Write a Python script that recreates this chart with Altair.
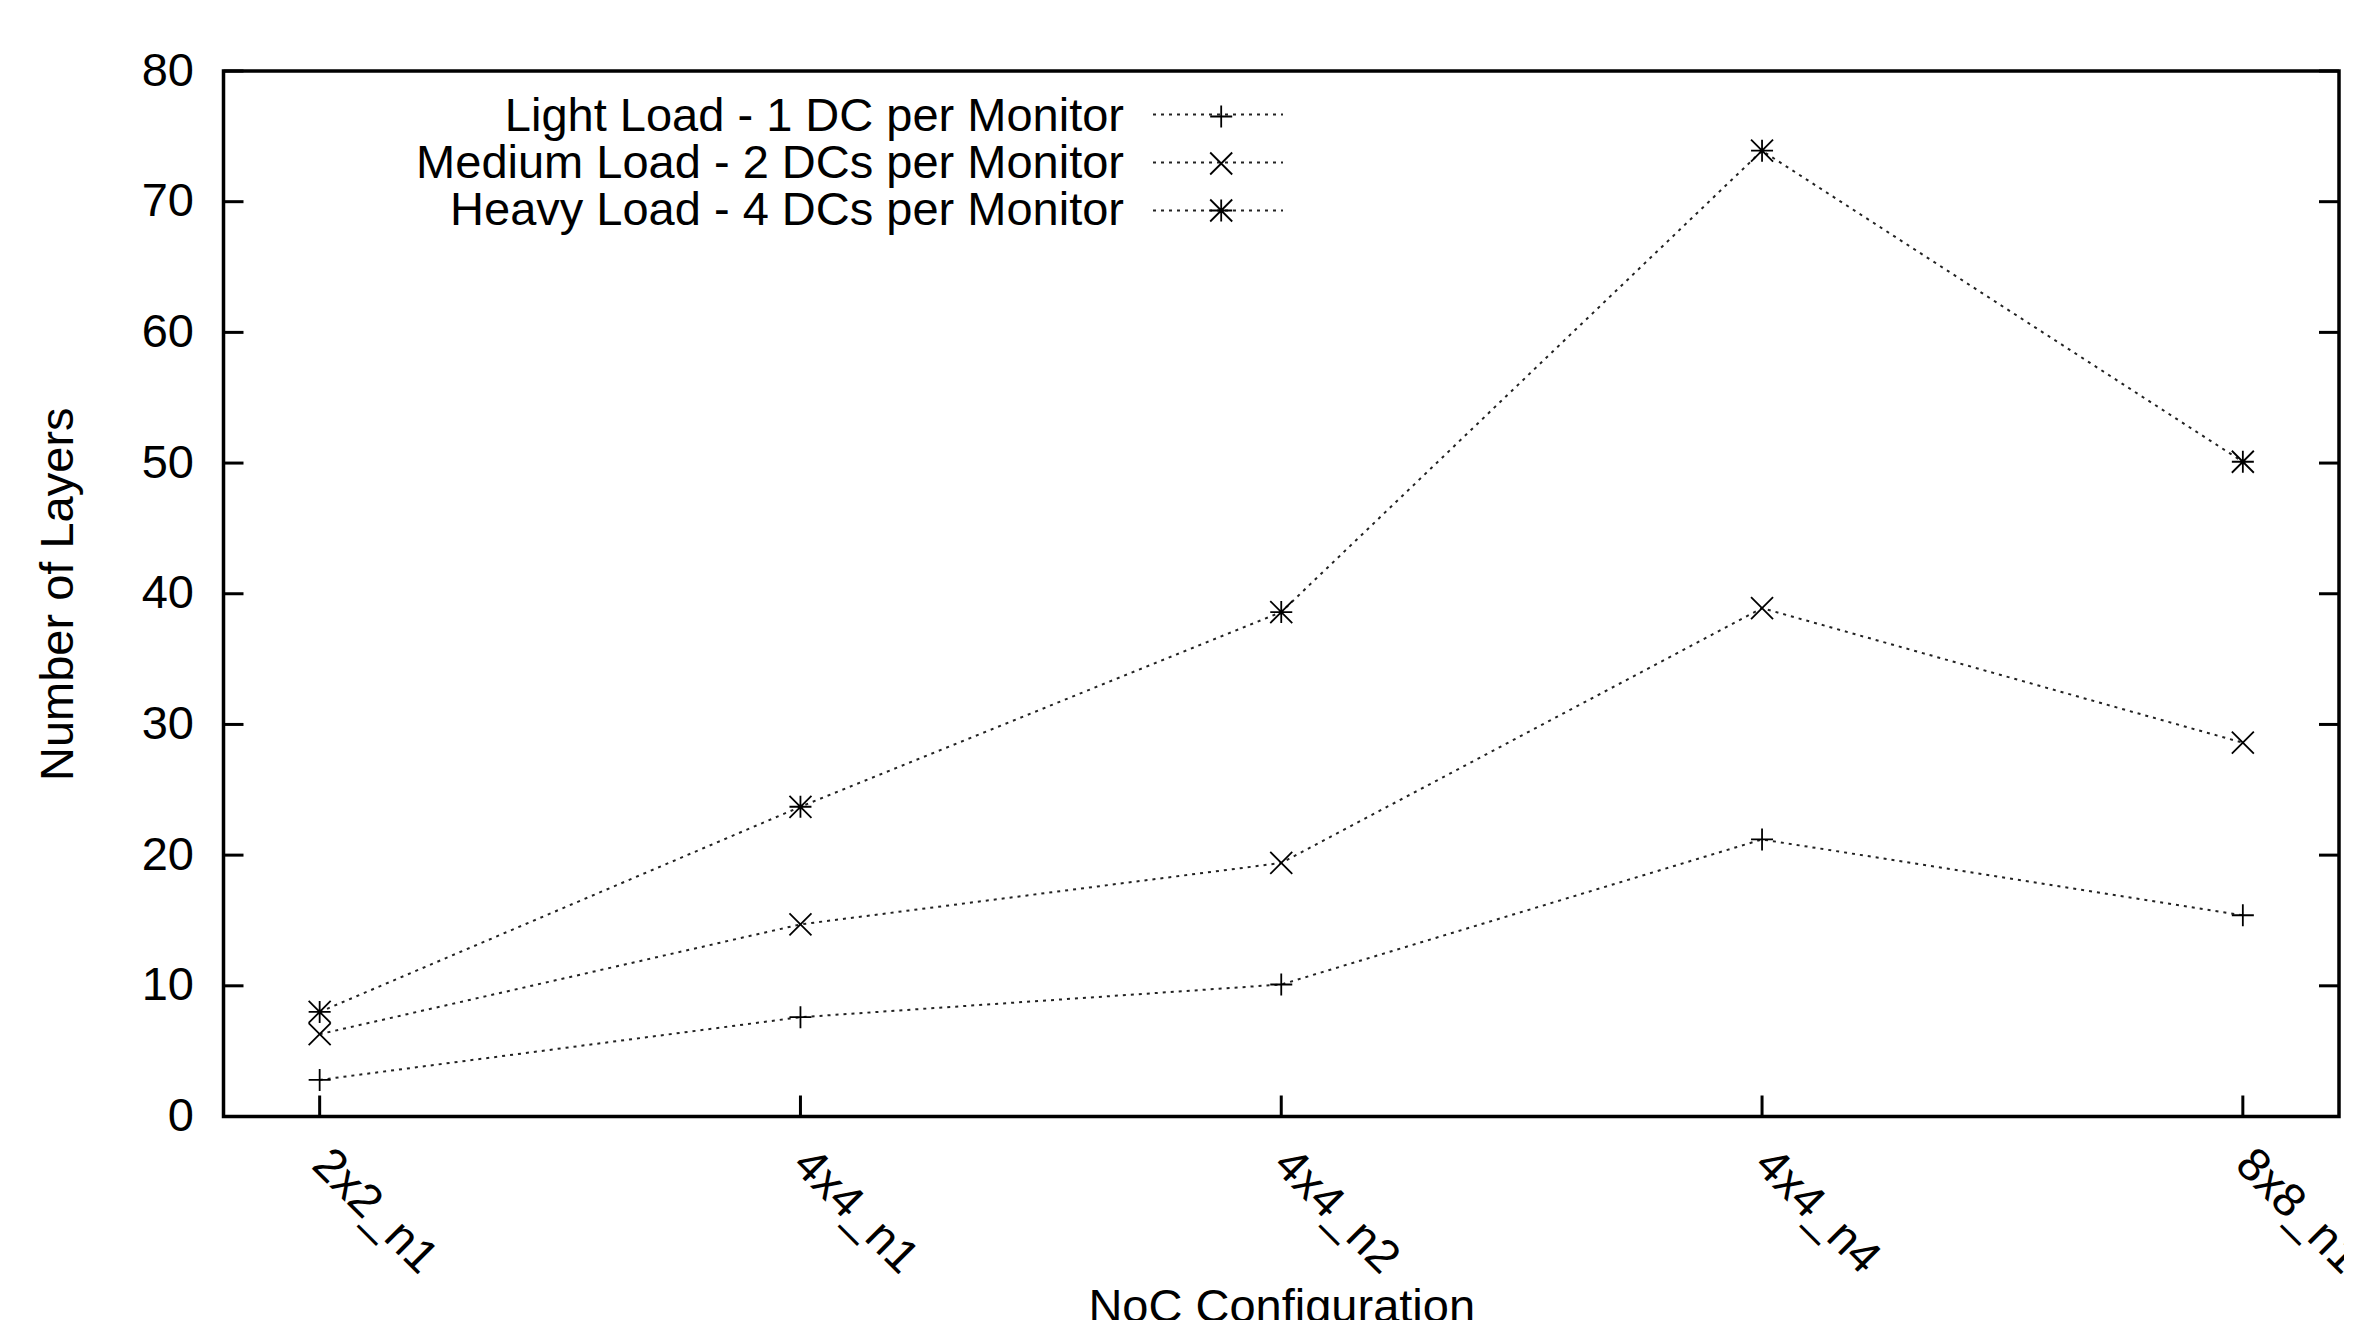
import altair as alt
import pandas as pd

categories = ["2x2_n1", "4x4_n1", "4x4_n2", "4x4_n4", "8x8_n1"]
series_names = [
    "Light Load - 1 DC per Monitor",
    "Medium Load - 2 DCs per Monitor",
    "Heavy Load - 4 DCs per Monitor",
]
light = [2.8, 7.6, 10.1, 21.2, 15.4]
medium = [6.3, 14.7, 19.4, 38.9, 28.6]
heavy = [8.0, 23.7, 38.6, 73.9, 50.1]
y_ticks = [0, 10, 20, 30, 40, 50, 60, 70, 80]

rows = []
for name, vals in zip(series_names, [light, medium, heavy]):
    for c, v in zip(categories, vals):
        rows.append({"config": c, "series": name, "load": name, "value": v})
df = pd.DataFrame(rows)
ticks_df = pd.DataFrame({"v": y_ticks})
cat_df = pd.DataFrame({"config": categories})

W = 2115.5
H = 1045.5
FONT = "Liberation Sans"
FS = 47
INK = "#222222"

plus_path = "M-1,0H1M0,-1V1"
cross_path = "M-1,-1L1,1M-1,1L1,-1"
star_path = "M-1,0H1M0,-1V1M-1,-1L1,1M-1,1L1,-1"

x_scale = alt.Scale(type="point", padding=0.2, domain=categories)
y_scale = alt.Scale(domain=[0, 80], nice=False, zero=True)
Y_TITLE = "Number of Layers"

x_enc = alt.X(
    "config:N",
    scale=x_scale,
    sort=categories,
    title="NoC Configuration",
    axis=alt.Axis(
        labelAngle=45,
        labelAlign="left",
        labelBaseline="middle",
        labelPadding=40,
        labelFont=FONT,
        labelFontSize=FS,
        labelColor="black",
        labelLimit=1000,
        labelOverlap=False,
        ticks=False,
        tickSize=0,
        domain=False,
        grid=False,
        titleFont=FONT,
        titleFontSize=FS,
        titleFontWeight="normal",
        titleColor="black",
        titleBaseline="top",
        titleY=168,
    ),
)
y_enc = alt.Y(
    "value:Q",
    scale=y_scale,
    title=Y_TITLE,
    axis=alt.Axis(
        values=y_ticks,
        labelPadding=30,
        labelFont=FONT,
        labelFontSize=FS,
        labelColor="black",
        ticks=False,
        tickSize=0,
        domain=False,
        grid=False,
        titleFont=FONT,
        titleFontSize=FS,
        titleFontWeight="normal",
        titleColor="black",
        titleAngle=270,
        titleBaseline="bottom",
        titleX=-141,
        titleY=H / 2,
    ),
)

lines = alt.Chart(df).mark_line(color=INK, strokeWidth=2).encode(
    x=x_enc,
    y=y_enc,
    strokeDash=alt.StrokeDash(
        "load:N",
        scale=alt.Scale(range=[[3, 5], [3, 5], [3, 5]]),
        legend=alt.Legend(
            title=None,
            orient="none",
            legendX=928.5,
            legendY=20.5,
            direction="vertical",
            symbolType="stroke",
            symbolSize=16900,
            symbolStrokeWidth=2,
            symbolStrokeColor=INK,
            labelExpr="''",
            labelFont=FONT,
            labelFontSize=FS,
            clipHeight=46,
            rowPadding={"expr": "1"},
            padding=0,
        ),
    ),
)

points = alt.Chart(df).mark_point(
    filled=False, color="black", strokeWidth=1.8, size=484, opacity=1
).encode(
    x=alt.X("config:N", scale=x_scale, sort=categories, title="NoC Configuration"),
    y=alt.Y("value:Q", scale=y_scale, title=Y_TITLE),
    shape=alt.Shape(
        "series:N",
        scale=alt.Scale(domain=series_names, range=[plus_path, cross_path, star_path]),
        legend=alt.Legend(
            title=None,
            orient="none",
            legendX=974.2,
            legendY=22,
            direction="vertical",
            labelAlign="right",
            labelOffset={"expr": "-120.7"},
            labelFont=FONT,
            labelFontSize=FS,
            labelColor="black",
            labelLimit=2000,
            symbolSize=484,
            symbolStrokeWidth=1.8,
            symbolStrokeColor="black",
            symbolFillColor="transparent",
            rowPadding={"expr": "-1"},
            padding=0,
        ),
    ),
)

ytick_left = alt.Chart(ticks_df).mark_rule(color="black", strokeWidth=3).encode(
    y=alt.Y("v:Q", scale=y_scale, title=Y_TITLE),
    x=alt.value(0),
    x2=alt.value(20),
)
ytick_right = alt.Chart(ticks_df).mark_rule(color="black", strokeWidth=3).encode(
    y=alt.Y("v:Q", scale=y_scale, title=Y_TITLE),
    x=alt.value(W - 20),
    x2=alt.value(W),
)
xtick = alt.Chart(cat_df).mark_rule(color="black", strokeWidth=3).encode(
    x=alt.X("config:N", scale=x_scale, sort=categories, title="NoC Configuration"),
    y=alt.value(H - 21),
    y2=alt.value(H),
)

chart = (
    alt.layer(lines, points, ytick_left, ytick_right, xtick)
    .properties(
        width=W,
        height=H,
        autosize=alt.AutoSizeParams(type="none"),
        padding={"left": 215.5, "top": 63, "right": 5, "bottom": 203},
        background="white",
    )
    .configure_view(stroke="black", strokeWidth=3.5)
)

chart.save("out.html", embed_options={"renderer": "svg", "actions": False})
